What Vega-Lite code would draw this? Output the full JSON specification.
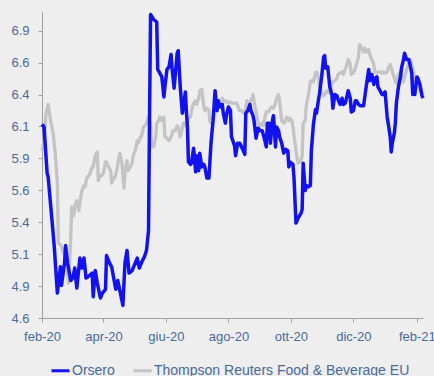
{
"$schema": "https://vega.github.io/schema/vega-lite/v6.json",
"width": 381, "height": 306,
"autosize": "none",
"padding": {"left": 42, "top": 12, "right": 11, "bottom": 58},
"background": "#eeeeee",
"config": {"view": {"stroke": null}, "axis": {"labelFont": "Liberation Sans", "labelFontSize": 13, "labelColor": "#4a6a9b", "domainColor": "#a0a0a0", "tickColor": "#a0a0a0", "grid": false, "tickSize": 4}},
"datasets": {
"orsero": [
{"date":"2020-02-01","price":6.15},{"date":"2020-02-03","price":6.13},{"date":"2020-02-06","price":5.76},{"date":"2020-02-07","price":5.73},{"date":"2020-02-11","price":5.36},{"date":"2020-02-13","price":5.17},{"date":"2020-02-16","price":4.80},{"date":"2020-02-19","price":5.01},{"date":"2020-02-20","price":4.86},{"date":"2020-02-23","price":5.04},{"date":"2020-02-24","price":5.18},{"date":"2020-02-26","price":5.04},{"date":"2020-02-29","price":4.90},{"date":"2020-03-02","price":4.92},{"date":"2020-03-04","price":5.00},{"date":"2020-03-06","price":4.84},{"date":"2020-03-09","price":5.08},{"date":"2020-03-11","price":5.00},{"date":"2020-03-13","price":5.08},{"date":"2020-03-15","price":4.92},{"date":"2020-03-17","price":4.93},{"date":"2020-03-21","price":4.96},{"date":"2020-03-22","price":4.77},{"date":"2020-03-24","price":4.98},{"date":"2020-03-26","price":4.88},{"date":"2020-03-29","price":4.76},{"date":"2020-03-31","price":4.80},{"date":"2020-04-03","price":4.83},{"date":"2020-04-04","price":5.10},{"date":"2020-04-07","price":5.04},{"date":"2020-04-09","price":5.01},{"date":"2020-04-13","price":4.83},{"date":"2020-04-15","price":4.90},{"date":"2020-04-17","price":4.82},{"date":"2020-04-20","price":4.70},{"date":"2020-04-22","price":5.04},{"date":"2020-04-24","price":5.14},{"date":"2020-04-26","price":4.96},{"date":"2020-04-29","price":4.98},{"date":"2020-05-02","price":5.04},{"date":"2020-05-04","price":5.08},{"date":"2020-05-06","price":5.00},{"date":"2020-05-09","price":5.06},{"date":"2020-05-11","price":5.09},{"date":"2020-05-13","price":5.14},{"date":"2020-05-15","price":5.30},{"date":"2020-05-16","price":6.21},{"date":"2020-05-17","price":7.03},{"date":"2020-05-20","price":6.99},{"date":"2020-05-23","price":6.97},{"date":"2020-05-24","price":6.59},{"date":"2020-05-26","price":6.56},{"date":"2020-05-28","price":6.53},{"date":"2020-05-30","price":6.37},{"date":"2020-05-31","price":6.45},{"date":"2020-06-02","price":6.59},{"date":"2020-06-04","price":6.61},{"date":"2020-06-06","price":6.71},{"date":"2020-06-07","price":6.60},{"date":"2020-06-09","price":6.44},{"date":"2020-06-12","price":6.72},{"date":"2020-06-13","price":6.74},{"date":"2020-06-15","price":6.45},{"date":"2020-06-17","price":6.24},{"date":"2020-06-18","price":6.29},{"date":"2020-06-20","price":6.41},{"date":"2020-06-21","price":6.25},{"date":"2020-06-22","price":6.13},{"date":"2020-06-23","price":5.85},{"date":"2020-06-25","price":5.83},{"date":"2020-06-26","price":5.84},{"date":"2020-06-28","price":5.96},{"date":"2020-06-30","price":5.77},{"date":"2020-07-01","price":5.90},{"date":"2020-07-03","price":5.78},{"date":"2020-07-04","price":5.92},{"date":"2020-07-06","price":5.81},{"date":"2020-07-08","price":5.83},{"date":"2020-07-09","price":5.81},{"date":"2020-07-11","price":5.72},{"date":"2020-07-13","price":5.72},{"date":"2020-07-15","price":6.00},{"date":"2020-07-17","price":6.18},{"date":"2020-07-19","price":6.42},{"date":"2020-07-21","price":6.26},{"date":"2020-07-22","price":6.34},{"date":"2020-07-24","price":6.29},{"date":"2020-07-26","price":6.31},{"date":"2020-07-27","price":6.24},{"date":"2020-07-29","price":6.16},{"date":"2020-07-30","price":6.22},{"date":"2020-08-01","price":6.29},{"date":"2020-08-03","price":6.26},{"date":"2020-08-04","price":6.05},{"date":"2020-08-07","price":5.98},{"date":"2020-08-08","price":5.90},{"date":"2020-08-10","price":6.00},{"date":"2020-08-12","price":6.00},{"date":"2020-08-15","price":5.95},{"date":"2020-08-17","price":5.91},{"date":"2020-08-18","price":6.24},{"date":"2020-08-20","price":6.26},{"date":"2020-08-22","price":6.31},{"date":"2020-08-23","price":6.26},{"date":"2020-08-25","price":6.22},{"date":"2020-08-26","price":6.18},{"date":"2020-08-28","price":6.04},{"date":"2020-08-30","price":6.12},{"date":"2020-09-01","price":6.10},{"date":"2020-09-03","price":6.10},{"date":"2020-09-05","price":6.04},{"date":"2020-09-07","price":5.97},{"date":"2020-09-08","price":6.16},{"date":"2020-09-10","price":6.16},{"date":"2020-09-11","price":6.00},{"date":"2020-09-13","price":6.18},{"date":"2020-09-14","price":6.22},{"date":"2020-09-16","price":5.97},{"date":"2020-09-17","price":6.13},{"date":"2020-09-19","price":6.10},{"date":"2020-09-20","price":6.05},{"date":"2020-09-22","price":6.00},{"date":"2020-09-24","price":5.92},{"date":"2020-09-26","price":5.95},{"date":"2020-09-28","price":5.94},{"date":"2020-09-29","price":5.81},{"date":"2020-09-30","price":5.85},{"date":"2020-10-03","price":5.83},{"date":"2020-10-04","price":5.73},{"date":"2020-10-06","price":5.36},{"date":"2020-10-08","price":5.40},{"date":"2020-10-11","price":5.44},{"date":"2020-10-12","price":5.47},{"date":"2020-10-13","price":5.84},{"date":"2020-10-15","price":5.62},{"date":"2020-10-16","price":5.66},{"date":"2020-10-18","price":5.65},{"date":"2020-10-20","price":5.66},{"date":"2020-10-21","price":5.94},{"date":"2020-10-23","price":6.15},{"date":"2020-10-25","price":6.27},{"date":"2020-10-26","price":6.24},{"date":"2020-10-28","price":6.35},{"date":"2020-10-29","price":6.40},{"date":"2020-10-31","price":6.53},{"date":"2020-11-02","price":6.69},{"date":"2020-11-03","price":6.70},{"date":"2020-11-04","price":6.60},{"date":"2020-11-06","price":6.61},{"date":"2020-11-07","price":6.53},{"date":"2020-11-08","price":6.45},{"date":"2020-11-10","price":6.39},{"date":"2020-11-11","price":6.28},{"date":"2020-11-13","price":6.39},{"date":"2020-11-15","price":6.38},{"date":"2020-11-16","price":6.35},{"date":"2020-11-18","price":6.31},{"date":"2020-11-20","price":6.36},{"date":"2020-11-21","price":6.31},{"date":"2020-11-23","price":6.32},{"date":"2020-11-24","price":6.35},{"date":"2020-11-26","price":6.42},{"date":"2020-11-28","price":6.36},{"date":"2020-11-29","price":6.25},{"date":"2020-12-01","price":6.26},{"date":"2020-12-03","price":6.34},{"date":"2020-12-04","price":6.34},{"date":"2020-12-06","price":6.31},{"date":"2020-12-08","price":6.30},{"date":"2020-12-11","price":6.30},{"date":"2020-12-12","price":6.36},{"date":"2020-12-14","price":6.48},{"date":"2020-12-16","price":6.59},{"date":"2020-12-17","price":6.50},{"date":"2020-12-19","price":6.55},{"date":"2020-12-21","price":6.47},{"date":"2020-12-22","price":6.52},{"date":"2020-12-24","price":6.53},{"date":"2020-12-25","price":6.45},{"date":"2020-12-27","price":6.42},{"date":"2020-12-29","price":6.39},{"date":"2020-12-30","price":6.39},{"date":"2021-01-01","price":6.41},{"date":"2021-01-03","price":6.21},{"date":"2021-01-04","price":6.16},{"date":"2021-01-06","price":6.05},{"date":"2021-01-07","price":5.93},{"date":"2021-01-08","price":6.00},{"date":"2021-01-10","price":6.08},{"date":"2021-01-11","price":6.16},{"date":"2021-01-12","price":6.32},{"date":"2021-01-14","price":6.45},{"date":"2021-01-16","price":6.53},{"date":"2021-01-17","price":6.60},{"date":"2021-01-19","price":6.67},{"date":"2021-01-20","price":6.72},{"date":"2021-01-22","price":6.67},{"date":"2021-01-24","price":6.67},{"date":"2021-01-25","price":6.64},{"date":"2021-01-27","price":6.56},{"date":"2021-01-28","price":6.39},{"date":"2021-01-29","price":6.45},{"date":"2021-01-30","price":6.39},{"date":"2021-02-01","price":6.53},{"date":"2021-02-02","price":6.52},{"date":"2021-02-04","price":6.47},{"date":"2021-02-06","price":6.38},{"date":"2021-02-07","price":6.36}
],
"thomson": [
{"date":"2020-02-01","price":5.94},{"date":"2020-02-03","price":6.02},{"date":"2020-02-05","price":6.24},{"date":"2020-02-07","price":6.31},{"date":"2020-02-09","price":6.20},{"date":"2020-02-12","price":6.07},{"date":"2020-02-14","price":5.91},{"date":"2020-02-16","price":5.68},{"date":"2020-02-17","price":5.20},{"date":"2020-02-19","price":5.19},{"date":"2020-02-20","price":5.17},{"date":"2020-02-22","price":5.12},{"date":"2020-02-24","price":5.17},{"date":"2020-02-25","price":5.06},{"date":"2020-02-27","price":4.88},{"date":"2020-02-29","price":5.23},{"date":"2020-03-01","price":5.49},{"date":"2020-03-03","price":5.42},{"date":"2020-03-04","price":5.49},{"date":"2020-03-06","price":5.54},{"date":"2020-03-08","price":5.46},{"date":"2020-03-09","price":5.52},{"date":"2020-03-11","price":5.62},{"date":"2020-03-13","price":5.66},{"date":"2020-03-14","price":5.65},{"date":"2020-03-16","price":5.73},{"date":"2020-03-17","price":5.73},{"date":"2020-03-19","price":5.76},{"date":"2020-03-21","price":5.81},{"date":"2020-03-22","price":5.81},{"date":"2020-03-24","price":5.90},{"date":"2020-03-26","price":5.93},{"date":"2020-03-27","price":5.70},{"date":"2020-03-29","price":5.74},{"date":"2020-03-30","price":5.74},{"date":"2020-04-01","price":5.76},{"date":"2020-04-03","price":5.85},{"date":"2020-04-04","price":5.85},{"date":"2020-04-06","price":5.81},{"date":"2020-04-08","price":5.78},{"date":"2020-04-09","price":5.68},{"date":"2020-04-11","price":5.72},{"date":"2020-04-12","price":5.72},{"date":"2020-04-14","price":5.78},{"date":"2020-04-16","price":5.88},{"date":"2020-04-17","price":5.92},{"date":"2020-04-19","price":5.84},{"date":"2020-04-21","price":5.64},{"date":"2020-04-22","price":5.76},{"date":"2020-04-24","price":5.86},{"date":"2020-04-25","price":5.78},{"date":"2020-04-27","price":5.81},{"date":"2020-04-29","price":5.84},{"date":"2020-04-30","price":5.90},{"date":"2020-05-02","price":5.94},{"date":"2020-05-04","price":6.02},{"date":"2020-05-05","price":6.00},{"date":"2020-05-07","price":6.05},{"date":"2020-05-08","price":6.05},{"date":"2020-05-10","price":6.13},{"date":"2020-05-12","price":6.14},{"date":"2020-05-13","price":6.16},{"date":"2020-05-15","price":6.21},{"date":"2020-05-17","price":6.16},{"date":"2020-05-18","price":5.97},{"date":"2020-05-20","price":5.97},{"date":"2020-05-22","price":6.05},{"date":"2020-05-23","price":6.16},{"date":"2020-05-25","price":6.18},{"date":"2020-05-26","price":6.21},{"date":"2020-05-28","price":6.18},{"date":"2020-05-30","price":6.21},{"date":"2020-05-31","price":6.05},{"date":"2020-06-02","price":6.04},{"date":"2020-06-04","price":6.02},{"date":"2020-06-06","price":6.05},{"date":"2020-06-08","price":6.10},{"date":"2020-06-10","price":6.10},{"date":"2020-06-12","price":6.14},{"date":"2020-06-13","price":6.13},{"date":"2020-06-15","price":6.05},{"date":"2020-06-17","price":6.12},{"date":"2020-06-18","price":6.16},{"date":"2020-06-20","price":6.14},{"date":"2020-06-21","price":6.17},{"date":"2020-06-23","price":6.20},{"date":"2020-06-25","price":6.21},{"date":"2020-06-26","price":6.26},{"date":"2020-06-28","price":6.32},{"date":"2020-06-30","price":6.34},{"date":"2020-07-01","price":6.31},{"date":"2020-07-03","price":6.36},{"date":"2020-07-04","price":6.42},{"date":"2020-07-06","price":6.43},{"date":"2020-07-08","price":6.29},{"date":"2020-07-09","price":6.26},{"date":"2020-07-11","price":6.28},{"date":"2020-07-13","price":6.26},{"date":"2020-07-14","price":6.17},{"date":"2020-07-16","price":6.16},{"date":"2020-07-17","price":6.17},{"date":"2020-07-19","price":6.28},{"date":"2020-07-21","price":6.31},{"date":"2020-07-22","price":6.31},{"date":"2020-07-24","price":6.34},{"date":"2020-07-26","price":6.36},{"date":"2020-07-27","price":6.34},{"date":"2020-07-29","price":6.33},{"date":"2020-07-30","price":6.34},{"date":"2020-08-01","price":6.32},{"date":"2020-08-03","price":6.33},{"date":"2020-08-04","price":6.32},{"date":"2020-08-06","price":6.32},{"date":"2020-08-08","price":6.32},{"date":"2020-08-09","price":6.32},{"date":"2020-08-11","price":6.28},{"date":"2020-08-12","price":6.26},{"date":"2020-08-14","price":6.26},{"date":"2020-08-16","price":6.24},{"date":"2020-08-17","price":6.24},{"date":"2020-08-19","price":6.34},{"date":"2020-08-21","price":6.29},{"date":"2020-08-22","price":6.32},{"date":"2020-08-24","price":6.36},{"date":"2020-08-25","price":6.39},{"date":"2020-08-27","price":6.29},{"date":"2020-08-29","price":6.21},{"date":"2020-08-30","price":6.16},{"date":"2020-09-01","price":6.14},{"date":"2020-09-03","price":6.16},{"date":"2020-09-04","price":6.14},{"date":"2020-09-06","price":6.22},{"date":"2020-09-07","price":6.25},{"date":"2020-09-09","price":6.25},{"date":"2020-09-11","price":6.28},{"date":"2020-09-12","price":6.29},{"date":"2020-09-14","price":6.28},{"date":"2020-09-16","price":6.32},{"date":"2020-09-17","price":6.36},{"date":"2020-09-19","price":6.39},{"date":"2020-09-20","price":6.34},{"date":"2020-09-22","price":6.18},{"date":"2020-09-24","price":6.16},{"date":"2020-09-25","price":6.17},{"date":"2020-09-27","price":6.21},{"date":"2020-09-29","price":6.18},{"date":"2020-09-30","price":6.20},{"date":"2020-10-02","price":6.18},{"date":"2020-10-03","price":6.13},{"date":"2020-10-05","price":6.00},{"date":"2020-10-07","price":5.88},{"date":"2020-10-08","price":5.84},{"date":"2020-10-10","price":5.85},{"date":"2020-10-12","price":5.89},{"date":"2020-10-13","price":6.16},{"date":"2020-10-15","price":6.18},{"date":"2020-10-16","price":6.30},{"date":"2020-10-18","price":6.38},{"date":"2020-10-20","price":6.49},{"date":"2020-10-21","price":6.50},{"date":"2020-10-23","price":6.49},{"date":"2020-10-25","price":6.56},{"date":"2020-10-26","price":6.57},{"date":"2020-10-28","price":6.52},{"date":"2020-10-29","price":6.45},{"date":"2020-10-31","price":6.41},{"date":"2020-11-02","price":6.38},{"date":"2020-11-03","price":6.39},{"date":"2020-11-05","price":6.42},{"date":"2020-11-07","price":6.40},{"date":"2020-11-08","price":6.42},{"date":"2020-11-10","price":6.47},{"date":"2020-11-11","price":6.49},{"date":"2020-11-13","price":6.50},{"date":"2020-11-15","price":6.52},{"date":"2020-11-16","price":6.55},{"date":"2020-11-18","price":6.56},{"date":"2020-11-20","price":6.57},{"date":"2020-11-21","price":6.55},{"date":"2020-11-23","price":6.59},{"date":"2020-11-24","price":6.61},{"date":"2020-11-26","price":6.67},{"date":"2020-11-28","price":6.63},{"date":"2020-11-29","price":6.55},{"date":"2020-12-01","price":6.56},{"date":"2020-12-03","price":6.60},{"date":"2020-12-04","price":6.63},{"date":"2020-12-06","price":6.69},{"date":"2020-12-07","price":6.79},{"date":"2020-12-09","price":6.76},{"date":"2020-12-11","price":6.73},{"date":"2020-12-12","price":6.76},{"date":"2020-12-14","price":6.73},{"date":"2020-12-16","price":6.75},{"date":"2020-12-17","price":6.71},{"date":"2020-12-19","price":6.67},{"date":"2020-12-21","price":6.63},{"date":"2020-12-22","price":6.57},{"date":"2020-12-24","price":6.56},{"date":"2020-12-25","price":6.57},{"date":"2020-12-27","price":6.57},{"date":"2020-12-29","price":6.56},{"date":"2020-12-30","price":6.57},{"date":"2021-01-01","price":6.56},{"date":"2021-01-03","price":6.57},{"date":"2021-01-04","price":6.60},{"date":"2021-01-06","price":6.63},{"date":"2021-01-07","price":6.60},{"date":"2021-01-09","price":6.55},{"date":"2021-01-11","price":6.49},{"date":"2021-01-12","price":6.48},{"date":"2021-01-14","price":6.55},{"date":"2021-01-16","price":6.57},{"date":"2021-01-17","price":6.53},{"date":"2021-01-19","price":6.49},{"date":"2021-01-20","price":6.53},{"date":"2021-01-22","price":6.59},{"date":"2021-01-24","price":6.63},{"date":"2021-01-25","price":6.67},{"date":"2021-01-27","price":6.64},{"date":"2021-01-29","price":6.56},{"date":"2021-01-30","price":6.49},{"date":"2021-02-01","price":6.50},{"date":"2021-02-02","price":6.47},{"date":"2021-02-04","price":6.42},{"date":"2021-02-06","price":6.40},{"date":"2021-02-07","price":6.39}
]
},
"encoding": {
"x": {"field": "date", "type": "temporal",
 "scale": {"domain": [{"year": 2020, "month": 2, "date": 1}, {"year": 2021, "month": 2, "date": 7}]},
 "axis": {"title": null, "values": [{"year": 2020, "month": 2, "date": 1}, {"year": 2020, "month": 4, "date": 1}, {"year": 2020, "month": 6, "date": 1}, {"year": 2020, "month": 8, "date": 1}, {"year": 2020, "month": 10, "date": 1}, {"year": 2020, "month": 12, "date": 1}, {"year": 2021, "month": 2, "date": 1}],
  "labelExpr": "['gen','feb','mar','apr','mag','giu','lug','ago','set','ott','nov','dic'][month(datum.value)] + '-' + timeFormat(datum.value, '%y')",
  "labelPadding": 8, "labelFlush": false, "labelOverlap": false}},
"y": {"field": "price", "type": "quantitative",
 "scale": {"domain": [4.6, 7.05], "nice": false, "zero": false},
 "axis": {"title": null, "values": [4.6, 4.8556, 5.1111, 5.3667, 5.6222, 5.8778, 6.1333, 6.3889, 6.6444, 6.9], "format": ".1f", "labelPadding": 9}},
"color": {"field": "series", "type": "nominal",
 "scale": {"domain": ["Orsero", "Thompson Reuters Food & Beverage EU"], "range": ["#1212ee", "#c4c4c4"]},
 "legend": {"title": null, "orient": "none", "legendX": 8, "legendY": 348, "direction": "horizontal", "symbolType": "stroke", "symbolSize": 324, "symbolStrokeWidth": 3, "labelFont": "Liberation Sans", "labelFontSize": 14, "labelColor": "#4a6a9b", "labelLimit": 400, "columnPadding": 12, "labelOffset": 1}}
},
"layer": [
{"data": {"name": "thomson"}, "transform": [{"lookup": "date", "from": {"data": {"values": [{"k": 1}]}, "key": "k", "fields": ["k"]}, "default": "Thompson Reuters Food & Beverage EU", "as": "series"}], "mark": {"type": "line", "strokeWidth": 3.3, "strokeJoin": "round"}},
{"data": {"name": "orsero"}, "transform": [{"lookup": "date", "from": {"data": {"values": [{"k": 1}]}, "key": "k", "fields": ["k"]}, "default": "Orsero", "as": "series"}], "mark": {"type": "line", "strokeWidth": 3.5, "strokeJoin": "round"}}
]
}
